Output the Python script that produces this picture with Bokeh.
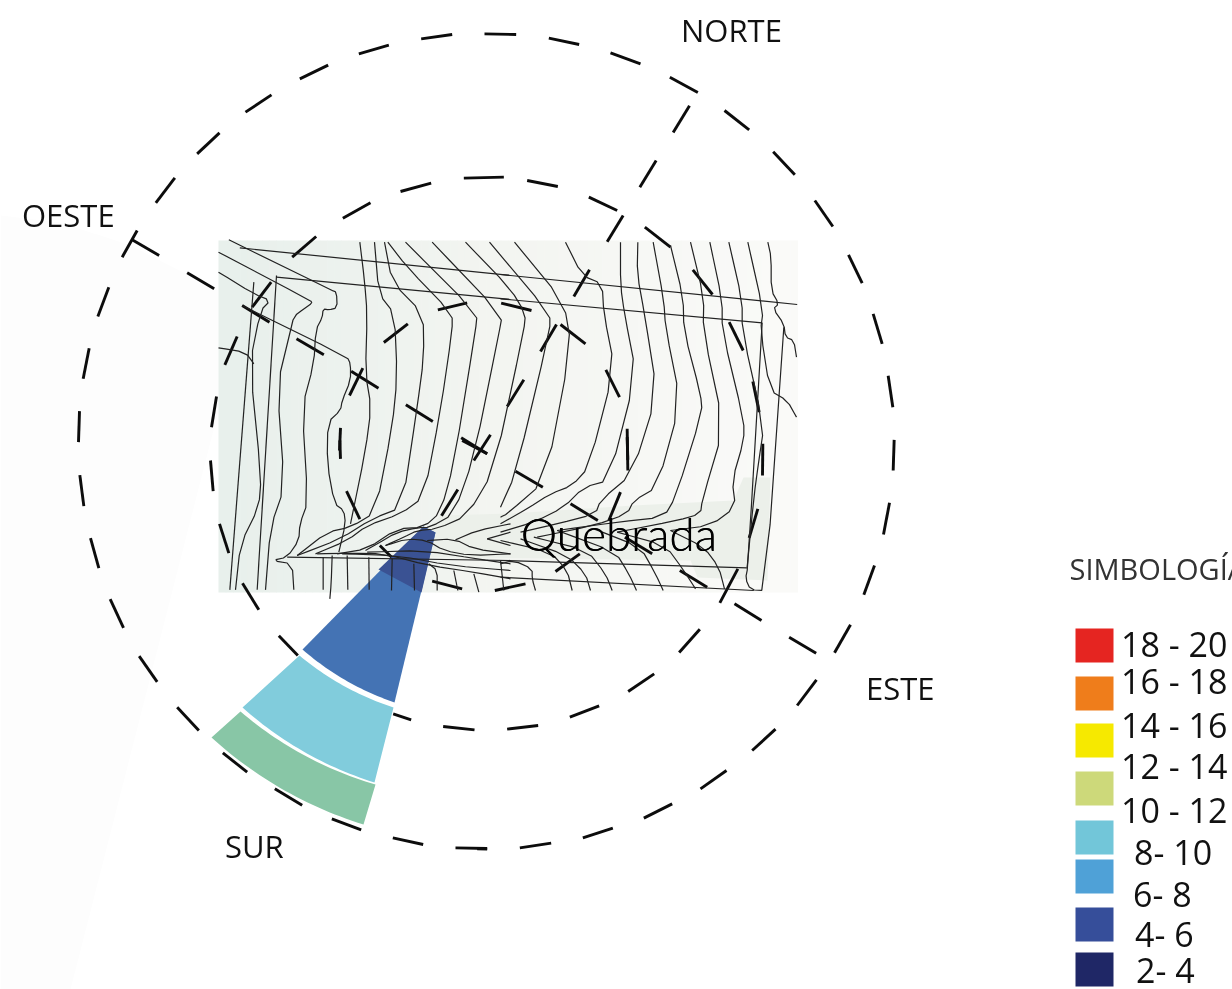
import numpy as np
from bokeh.plotting import figure
from bokeh.models import Range1d
from bokeh.core.properties import value
from bokeh.embed import file_html
from bokeh.resources import INLINE

W, H = 1232, 989

legend_labels = ["18 - 20", "16 - 18", "14 - 16", "12 - 14", "10 - 12", "8- 10", "6- 8", "4- 6", "2- 4"]
legend_colors = ["#e52521", "#ef7d1b", "#f6e900", "#cdd97a", "#72c6d9", "#4fa1d7", "#364e9a", "#1f2766"]
legend_box_top = [628, 676, 723, 771, 820, 859, 907, 952]
legend_text_x = [1120.5, 1120.5, 1120.5, 1120.5, 1120.5, 1133.5, 1132.5, 1134.5, 1135.5]
legend_text_y = [657, 694, 738, 779, 823, 865, 907, 947, 983]

directions = ["NORTE", "OESTE", "ESTE", "SUR"]
direction_x = [680.5, 21.5, 865.5, 224.5]
direction_y = [42, 227, 700, 858]

ring_centre = (485.5, 441.5)

dashes_tl = (70, 20, [
    [(1145,42),(1052,55)], [(955,74),(865,100)], [(773,134),(688,175)], [(603,223),(525,275)],
    [(447,337),(380,400)], [(313,472),(256,547)], [(200,630),(155,710)], [(115,800),(82,888)],
    [(56,983),(38,1075)], [(27,1172),(24,1265)],
    [(1082,488),(990,513)], [(900,547),(817,593)], [(737,648),(665,710)], [(602,785),(545,860)],
    [(500,948),(463,1033)], [(438,1128),(423,1220)],
    [(1012,910),(940,966)], [(877,1043),(837,1125)], [(810,1222),(807,1290)], [(1190,847),(1102,868)],
    [(185,658),(266,705)], [(350,757),(431,805)], [(515,855),(597,905)], [(678,955),(760,1003)],
    [(842,1052),(924,1103)], [(1006,1153),(1087,1203)], [(1172,1252),(1250,1300)],
    [(1180,473),(1300,470)],
])
dashes_tr = (480, 20, [
    [(12,40),(107,42)], [(205,53),(296,72)], [(390,97),(480,130)], [(568,170),(652,216)],
    [(732,270),(806,328)], [(878,394),(943,463)], [(1003,540),(1057,618)], [(1104,703),(1145,788)],
    [(1178,880),(1205,970)], [(1223,1066),(1237,1160)], [(1241,1258),(1238,1350)],
    [(140,480),(232,498)], [(325,530),(410,570)], [(493,620),(570,680)], [(637,748),(696,822)],
    [(746,905),(788,990)], [(817,1083),(836,1175)],
    [(62,848),(153,870)], [(240,912),(315,970)], [(376,1048),(417,1130)], [(440,1225),(442,1350)],
    [(627,256),(578,336)], [(527,420),(478,500)], [(428,585),(380,664)], [(327,748),(280,828)],
    [(228,912),(180,993)], [(130,1078),(80,1158)], [(30,1243),(-20,1320)],
])
dashes_bl = (70, 440, [
    [(1250,1224),(1155,1222)], [(1058,1212),(967,1192)], [(872,1168),(784,1135)], [(695,1094),(613,1045)],
    [(530,995),(457,937)], [(385,870),(320,800)], [(260,724),(206,647)], [(159,562),(119,476)],
    [(85,383),(60,293)], [(40,197),(28,104)],
    [(420,60),(428,152)], [(447,250),(475,338)], [(516,428),(565,508)], [(625,586),(682,645)],
    [(968,820),(1022,838)], [(1118,858),(1212,868)],
    [(808,0),(810,55)], [(828,152),(868,236)], [(928,315),(965,352)], [(1085,422),(1175,445)],
    [(1162,147),(1113,226)], [(1250,40),(1175,0)],
])
dashes_br = (480, 440, [
    [(1227,187),(1209,282)], [(1182,375),(1150,463)], [(1110,553),(1062,637)], [(1008,718),(950,795)],
    [(885,866),(815,930)], [(738,990),(660,1045)], [(575,1090),(490,1133)], [(397,1163),(307,1192)],
    [(212,1208),(118,1222)], [(20,1226),(-10,1225)],
    [(80,866),(173,855)], [(268,830),(356,796)], [(443,753),(521,700)], [(596,636),(658,566)],
    [(718,487),(772,385)], [(806,292),(832,205)], [(846,105),(847,10)],
    [(442,58),(440,-10)], [(420,155),(385,240)], [(298,340),(225,393)], [(135,430),(43,450)],
    [(105,92),(187,140)], [(270,190),(352,240)], [(433,290),(515,340)], [(598,390),(680,440)],
    [(762,490),(843,540)], [(926,590),(1007,638)],
])

# wedge of the SUR direction: corners of each band
wedge_blue = [(302, 649), (394, 702), (435, 532), (423, 526)]
wedge_blue_over_map = [(423, 526), (435, 532), (421, 592), (378, 569)]
wedge_cyan = [(299, 655), (393, 707), (374, 782), (242, 707)]
wedge_green = [(240, 711), (375, 784), (363, 824), (211, 737)]

contours_a = [
    [(24,65),(300,210),(305,218),(280,235),(250,258),(240,300),(200,465),(222,770),(180,890),(165,1078)],
    [(55,28),(365,180),(378,185),(380,232),(355,238),(338,235),(335,262),(316,298),(310,400),(275,530),(292,815),(268,880),(265,930),(230,980),(185,990),(245,1000),(250,1078)],
    [(24,125),(130,190),(180,210),(150,240),(118,400),(152,740),(145,830),(90,940),(75,1078)],
    [(130,155),(58,1078)],
    [(198,135),(140,1078)],
    [(88,52),(900,135)],
    [(198,140),(900,207)],
    [(24,352),(105,365),(130,400)],
    [(95,225),(410,380),(420,400),(420,450),(395,510),(390,540),(352,575),(350,700),(372,820),(400,840),(405,880),(385,965)],
    [(448,35),(462,150),(470,250),(465,430),(482,530),(465,660),(420,880)],
    [(365,975),(362,1060),(358,1105)],
    [(492,35),(505,190),(552,250),(560,440),(545,590),(495,845),(420,890),(350,905),(260,975)],
    [(522,35),(545,155),(638,250),(640,380),(620,530),(575,830),(485,865),(390,925),(260,975)],
    [(532,35),(590,110),(725,250),(725,300),(690,540),(640,800),(570,850),(470,885),(410,930),(315,970)],
    [(585,35),(800,250),(795,300),(730,700),(690,845),(640,890),(560,895),(470,955),(380,970)],
    [(665,35),(875,255),(865,310),(790,680),(730,850),(660,890),(620,892),(560,905),(500,940),(465,960)],
    [(765,35),(900,175),(945,250),(940,300),(850,720),(770,855),(680,895),(620,900),(580,920),(525,945)],
    [(230,980),(900,990)],
    [(320,970),(420,968),(520,970),(655,1005),(790,1025),(900,1045)],
    [(395,970),(560,975),(720,1005),(900,1020)],
    [(470,965),(640,960),(800,985),(900,1000)],
    [(525,945),(590,925),(650,930),(700,960),(780,975),(900,970)],
    [(650,930),(730,925),(790,955),(900,970)],
    [(735,928),(800,900),(900,880)],
    [(830,925),(900,905)],
    [(830,925),(900,945)],
    [(338,980),(338,1078)],
    [(410,975),(412,1078)],
    [(475,980),(476,1078)],
    [(545,985),(543,1080)],
    [(610,1000),(612,1080)],
    [(655,1000),(680,1020),(680,1080)],
    [(730,1020),(742,1080)],
    [(790,1030),(805,1085)],
    [(870,990),(880,1080)],
]
contours_b = [
    [(0,132),(890,222)],
    [(0,205),(785,277)],
    [(-33,35),(148,250),(148,300),(45,730),(0,830)],
    [(42,35),(190,215),(212,345),(135,750),(20,850),(0,860)],
    [(195,35),(245,135),(305,160),(310,250),(342,410),(265,710),(215,765),(150,790),(80,835),(0,880)],
    [(360,35),(360,165),(372,250),(407,430),(325,750),(250,770),(190,830),(100,875),(0,905)],
    [(412,35),(410,130),(432,250),(470,490),(395,730),(300,810),(285,850),(170,880),(60,905)],
    [(458,35),(490,210),(495,290),(540,515),(470,770),(400,810),(380,850),(280,885),(110,920)],
    [(510,45),(548,200),(550,300),(600,490),(605,545),(525,800),(490,860),(350,875),(170,900)],
    [(570,35),(610,200),(608,300),(670,590),(605,810),(600,850),(530,870),(350,905)],
    [(628,35),(665,210),(665,300),(730,570),(730,630),(695,750),(705,830),(630,885),(510,900)],
    [(685,35),(725,210),(725,300),(790,590),(775,690),(760,800),(740,1010)],
    [(742,35),(788,240),(780,300),(808,480),(860,510),(888,560)],
    [(802,35),(812,80),(812,180),(835,220),(818,235),(850,280),(855,320),(880,330),(888,380)],
    [(850,290),(795,1080),(750,1078),(735,1045),(742,1010),(785,277)],
    [(0,990),(740,1012)],
    [(0,1040),(760,1080)],
    [(0,1000),(40,990),(95,1015),(95,1045),(105,1080)],
    [(0,930),(150,965),(200,1020),(215,1080)],
    [(60,925),(200,975),(255,1030),(270,1080)],
    [(100,920),(260,960),(315,1030),(335,1080)],
    [(170,900),(345,965),(385,1030),(408,1080)],
    [(280,895),(420,950),(465,1030),(488,1080)],
    [(350,905),(495,945),(550,1020),(585,1075)],
    [(510,900),(610,950),(655,1010),(672,1075)],
]

FIT = 0.41  # distance the page's text sits below the asked baseline, per font pixel


def ty(ys, size):
    return [v - FIT * size for v in ys]


def soften(pts):
    if len(pts) < 3:
        return pts
    out = [pts[0]]
    for u, v in zip(pts[:-1], pts[1:]):
        out.append((u[0] * .75 + v[0] * .25, u[1] * .75 + v[1] * .25))
        out.append((u[0] * .25 + v[0] * .75, u[1] * .25 + v[1] * .75))
    out.append(pts[-1])
    return out


p = figure(width=W, height=H, x_range=Range1d(0, W), y_range=Range1d(H, 0),
           x_axis_type=None, y_axis_type=None, output_backend="svg", toolbar_location=None,
           min_border=0, outline_line_color=None)
p.styles = {"position": "fixed", "left": "0px", "top": "0px"}
p.grid.visible = False

# faint patch on the left
p.patch([0, 60, 130, 218, 218, 70, 0], [215, 222, 245, 290, 410, 989, 989], color="#fdfdfd", line_color=None)

# map ground
edges = np.linspace(218, 797, 81)
c0, c1, c2 = np.array([232, 240, 236.]), np.array([243, 245, 241.]), np.array([251, 251, 249.])
cols = []
for e in edges[:-1]:
    t = (e - 218) / 579
    c = c0 + (c1 - c0) * t / .45 if t < .45 else c1 + (c2 - c1) * (t - .45) / .55
    cols.append("#%02x%02x%02x" % tuple(int(v) for v in c))
p.quad(left=edges[:-1], right=edges[1:] + .6, top=240, bottom=592, color=cols, line_color=None)
p.patch([440, 510, 633, 733, 743, 770, 767, 697, 690, 400], [515, 513, 505, 500, 477, 477, 580, 577, 560, 556],
        color="#ecf0ea", line_color=None)

# rings and spokes
dx, dy = [], []
for ox, oy, group in (dashes_tl, dashes_tr, dashes_bl, dashes_br):
    for seg in group:
        dx.append([ox + q[0] / 3 for q in seg])
        dy.append([oy + q[1] / 3 for q in seg])
p.multi_line(dx, dy, line_color="#0c0c0c", line_width=2.9)


def arc(u, v):
    cx, cy = ring_centre
    au, av = np.arctan2(u[1] - cy, u[0] - cx), np.arctan2(v[1] - cy, v[0] - cx)
    ru, rv = np.hypot(u[0] - cx, u[1] - cy), np.hypot(v[0] - cx, v[1] - cy)
    s = np.linspace(0, 1, 30)
    return list(cx + (ru + (rv - ru) * s) * np.cos(au + (av - au) * s)), list(cy + (ru + (rv - ru) * s) * np.sin(au + (av - au) * s))


a, b, c, d = wedge_blue
x, y = arc(a, b)
p.patch(x + [c[0], d[0]], y + [c[1], d[1]], color="#4473b4", line_color=None)
p.patch(*zip(*wedge_blue_over_map), color="#3a5293", line_color=None)
for corners, colour in ((wedge_cyan, "#81ccdc"), (wedge_green, "#88c6a6")):
    a, b, c, d = corners
    x, y = arc(a, b)
    x2, y2 = arc(c, d)
    p.patch(x + x2, y + y2, color=colour, line_color=None)

# contours
xs, ys = [], []
for group, ox in ((contours_a, 210), (contours_b, 500)):
    for line in group:
        line = soften(line)
        xs.append([ox + q[0] / 3 for q in line])
        ys.append([230 + q[1] / 3 for q in line])
p.multi_line(xs, ys, line_color="#222222", line_width=1.2)

# texts
p.text(direction_x, ty(direction_y, 31), text=directions, text_font=value("Open Sans"), text_font_size="31px",
       text_color="#111111", text_baseline="alphabetic")
for shift in (0, .4):
    p.text([520 + shift], ty([552], 46), text=["Quebrada"], text_font=value("Lato Light"), text_font_size="46px",
           text_color="#000000", text_baseline="alphabetic")
p.text([1069], ty([580], 29), text=["SIMBOLOGÍA"], text_font=value("Open Sans"), text_font_size="29px",
       text_color="#333333", text_baseline="alphabetic")
p.text(legend_text_x, ty(legend_text_y, 34), text=legend_labels, text_font=value("Open Sans"), text_font_size="34px",
       text_color="#111111", text_baseline="alphabetic")

tops = np.array(legend_box_top)
p.quad(left=1075, right=1113, top=tops, bottom=tops + 34, color=legend_colors, line_color=None)

open("out.html", "w").write(file_html(p, INLINE))
